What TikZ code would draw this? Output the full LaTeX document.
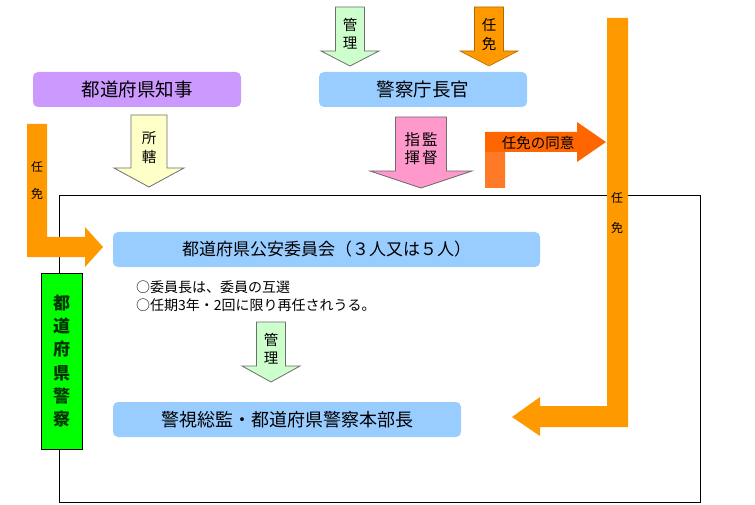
\documentclass[tikz,border=0pt]{standalone}
\usepackage{fontspec}
\newfontfamily\jp{Noto Sans CJK JP}
\usepackage{tikz}
\usetikzlibrary{calc}
\definecolor{Lilac}{HTML}{CC99FF}
\definecolor{SkyBlue}{HTML}{99CCFF}
\definecolor{Lime}{HTML}{00FF00}
\definecolor{DarkGreen}{HTML}{003300}
\definecolor{Orange}{HTML}{FF9900}
\definecolor{RedOrange}{HTML}{FF6600}
\definecolor{SoftOrange}{HTML}{FF7A26}
\definecolor{PaleGreen}{HTML}{CCFFCC}
\definecolor{PaleYellow}{HTML}{FFFFC8}
\definecolor{Pink}{HTML}{FF99CC}
\definecolor{Rim}{HTML}{6E6E6E}
% #1 style, #2 start, #3 tip, #4 half shaft, #5 half head, #6 head length
\newcommand{\blockdown}[6]{\draw[#1] let \p1=(#2),\p2=(#3) in
  (\x1-#4,\y1) -- (\x1+#4,\y1) -- (\x1+#4,\y2+#6) -- (\x1+#5,\y2+#6) -- (\x2,\y2)
  -- (\x1-#5,\y2+#6) -- (\x1-#4,\y2+#6) -- cycle;}

\begin{document}
\begin{tikzpicture}[x=1pt,y=-1pt,
box/.style={rounded corners=5pt,inner sep=0pt,minimum height=35pt,font=\jp\fontsize{18.5}{20}\selectfont},
lbl/.style={align=center,inner sep=0pt,font=\jp\fontsize{14.5}{18}\selectfont},
tiny/.style={inner sep=0pt,font=\jp\fontsize{12}{13}\selectfont},
note/.style={anchor=west,inner sep=0pt,font=\jp\fontsize{14}{16}\selectfont},
rim/.style={draw=Rim,line width=0.8pt}]
\useasboundingbox (0,0) rectangle (755,505);
\node[draw,line width=0.8pt,minimum width=641pt,minimum height=307pt,inner sep=0pt] (frame) at (379.5,348.5) {};
\node[box,fill=Lilac,minimum width=208pt] (chiji) at (137,89.5) {都道府県知事};
\node[box,fill=SkyBlue,minimum width=208pt] (chokan) at (423,89.5) {警察庁長官};
\node[box,fill=SkyBlue,minimum width=427pt,font=\jp\fontsize{17}{20}\selectfont] (koan) at (326.5,249.5) {都道府県公安委員会（３人又は５人）};
\node[box,fill=SkyBlue,minimum width=348pt,font=\jp\fontsize{18}{20}\selectfont] (honbu) at (287,419.5) {警視総監・都道府県警察本部長};
\node[note] (note1) at (136,287) {○委員長は、委員の互選};
\node[note] (note2) at (136,305) {○任期3年・2回に限り再任されうる。};
\node[draw=black,fill=Lime,minimum width=41pt,minimum height=176pt,inner sep=0pt,align=center,
  text=DarkGreen,font=\jp\bfseries\fontsize{17}{23.3}\selectfont] (kenkei) at (61.5,361) {都\\道\\府\\県\\警\\察};
\coordinate (k1s) at (350,7); \coordinate (k1e) at (350,66);
\coordinate (n1s) at (489,7); \coordinate (n1e) at (489,66);
\coordinate (sks) at (149,115); \coordinate (ske) at (149,187);
\coordinate (sis) at (421,117); \coordinate (sie) at (421,188);
\coordinate (k2s) at (271,322); \coordinate (k2e) at (271,382);
\blockdown{rim,fill=PaleGreen}{k1s}{k1e}{14.5}{29}{15}
\blockdown{draw=Orange!70!black,line width=0.6pt,fill=Orange}{n1s}{n1e}{14.5}{29}{15}
\blockdown{rim,fill=PaleYellow}{sks}{ske}{18}{35}{19}
\blockdown{rim,fill=Pink}{sis}{sie}{25.5}{51}{17}
\blockdown{rim,fill=PaleGreen}{k2s}{k2e}{14.5}{29}{16}
\node[lbl] (kanri1) at (350,33.5) {管\\理};
\node[lbl,font=\jp\fontsize{14.5}{19}\selectfont] (nin1) at (489,34) {任\\免};
\node[lbl,font=\jp\fontsize{14.5}{19}\selectfont] (shokatsu) at (149,147.5) {所\\轄};
\node[lbl,font=\jp\fontsize{15.5}{18}\selectfont] (shiki) at (421,148.5) {指\hspace{2pt}監\\揮\hspace{2pt}督};
\node[lbl] (kanri2) at (271,349) {管\\理};
\fill[Orange] (27,124) -- (47,124) -- (47,237) -- (85,237) -- (85,227) -- (103,247) -- (85,267) -- (85,257) -- (27,257) -- cycle;
\node[tiny] (nin2) at (37,167) {任};
\node[tiny] (men2) at (37,194) {免};
\fill[RedOrange] (485,188) -- (485,132) -- (577,132) -- (577,122) -- (606,142) -- (577,162) -- (577,152) -- (505,152) -- (505,188) -- cycle;
\fill[SoftOrange] (485,152) rectangle (505,188);
\node[lbl,font=\jp\fontsize{14.5}{16}\selectfont] (doi) at (538,143) {任免の同意};
\fill[Orange] (607,18) -- (628,18) -- (628,427) -- (540,427) -- (540,436) -- (512,417) -- (540,397) -- (540,406) -- (607,406) -- cycle;
\node[tiny] (nin3) at (617,198) {任};
\node[tiny] (men3) at (617,228) {免};
\end{tikzpicture}
\end{document}
